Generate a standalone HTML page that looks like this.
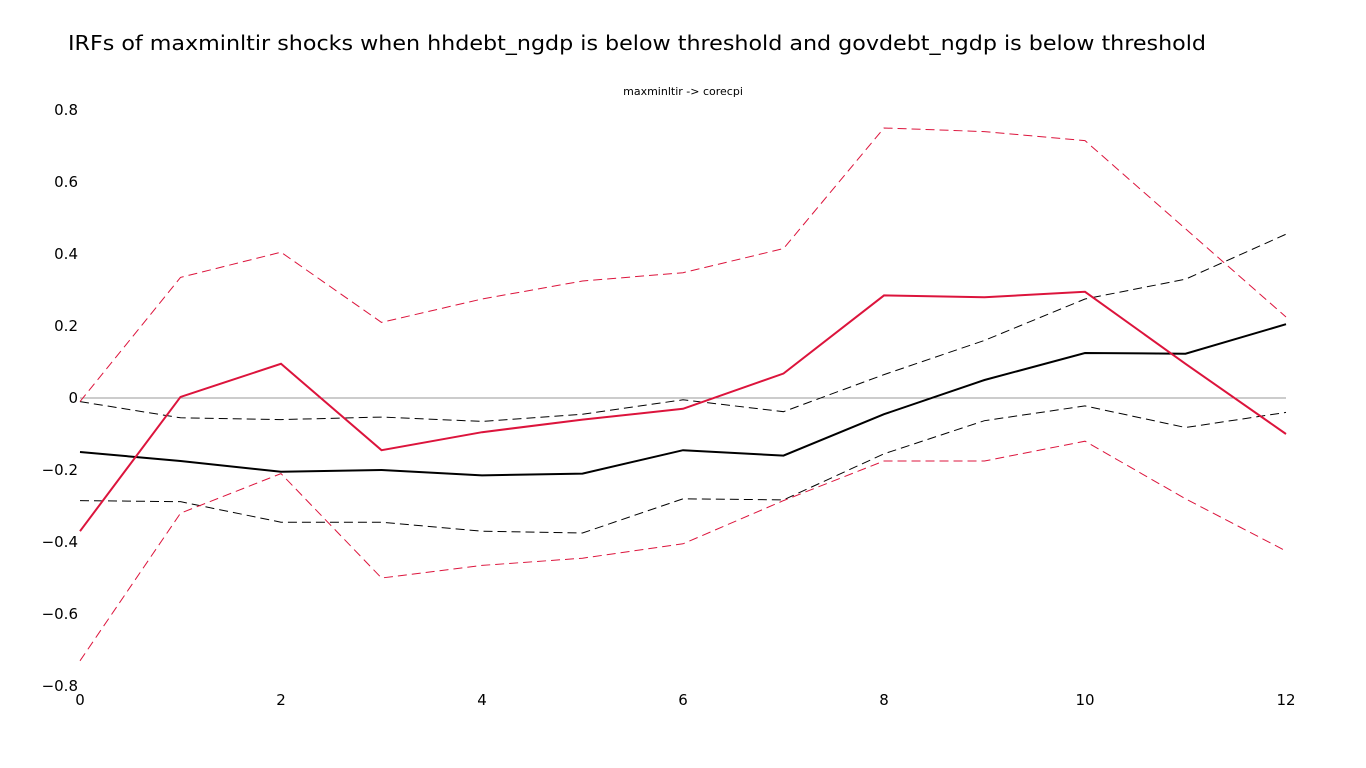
<!DOCTYPE html>
<html><head><meta charset="utf-8">
<style>
html,body{margin:0;padding:0;background:#fff;}
svg{display:block;font-family:"DejaVu Sans","Liberation Sans",sans-serif;}
</style></head>
<body>
<svg id="chart" width="1366" height="768">
<text x="68" y="50" font-size="20" textLength="1138" lengthAdjust="spacingAndGlyphs" fill="#000">IRFs of maxminltir shocks when hhdebt_ngdp is below threshold and govdebt_ngdp is below threshold</text>
<text x="683" y="95" font-size="11" text-anchor="middle" fill="#000">maxminltir -&gt; corecpi</text>
<g id="axes"></g>
<g id="series"></g>
</svg>
<script>
const horizons = [0,1,2,3,4,5,6,7,8,9,10,11,12];
const blackMean = [-0.15,-0.175,-0.205,-0.2,-0.215,-0.21,-0.145,-0.16,-0.045,0.05,0.125,0.123,0.205];
const blackUpper = [-0.01,-0.055,-0.06,-0.053,-0.065,-0.045,-0.005,-0.038,0.065,0.16,0.275,0.33,0.455];
const blackLower = [-0.285,-0.288,-0.345,-0.345,-0.37,-0.375,-0.28,-0.283,-0.155,-0.063,-0.022,-0.082,-0.04];
const redMean = [-0.37,0.003,0.095,-0.145,-0.095,-0.06,-0.03,0.068,0.285,0.28,0.295,0.095,-0.1];
const redUpper = [-0.01,0.335,0.405,0.21,0.275,0.325,0.348,0.415,0.75,0.74,0.715,0.47,0.225];
const redLower = [-0.73,-0.32,-0.21,-0.5,-0.465,-0.445,-0.405,-0.285,-0.175,-0.175,-0.12,-0.28,-0.425];
const xTicks = [0,2,4,6,8,10,12];
const yTicks = [0.8,0.6,0.4,0.2,0,-0.2,-0.4,-0.6,-0.8];

const NS = "http://www.w3.org/2000/svg";
const x = v => 80 + v * (1286 - 80) / 12;
const y = v => 398 - v * 360;
const axes = document.getElementById('axes');
const series = document.getElementById('series');

const zl = document.createElementNS(NS, 'line');
zl.setAttribute('x1', x(0)); zl.setAttribute('x2', x(12));
zl.setAttribute('y1', y(0)); zl.setAttribute('y2', y(0));
zl.setAttribute('stroke', '#999'); zl.setAttribute('stroke-width', '1');


axes.appendChild(zl);

xTicks.forEach(t => {
  const tx = document.createElementNS(NS, 'text');
  tx.setAttribute('x', x(t)); tx.setAttribute('y', 705);
  tx.setAttribute('text-anchor', 'middle'); tx.setAttribute('font-size', '15');
  tx.textContent = t;
  
  
  axes.appendChild(tx);
});
yTicks.forEach(t => {
  const tx = document.createElementNS(NS, 'text');
  tx.setAttribute('x', 78); tx.setAttribute('y', y(t) + 5);
  tx.setAttribute('text-anchor', 'end'); tx.setAttribute('font-size', '15');
  tx.textContent = t === 0 ? '0' : (t < 0 ? '\u2212' + Math.abs(t).toFixed(1) : t.toFixed(1));
  
  
  axes.appendChild(tx);
});

function drawLine(vals, color, width, dash, name) {
  const p = document.createElementNS(NS, 'polyline');
  p.setAttribute('points', vals.map((v, i) => x(horizons[i]) + ',' + y(v)).join(' '));
  p.setAttribute('fill', 'none');
  p.setAttribute('stroke', color);
  p.setAttribute('stroke-width', width);
  if (dash) p.setAttribute('stroke-dasharray', dash);
  
  
  series.appendChild(p);
}
drawLine(blackUpper, '#000', 1, '9,5', 'black-upper-band');
drawLine(blackLower, '#000', 1, '9,5', 'black-lower-band');
drawLine(redUpper, '#dc143c', 1, '9,5', 'red-upper-band');
drawLine(redLower, '#dc143c', 1, '9,5', 'red-lower-band');
drawLine(blackMean, '#000', 2, null, 'black-irf-line');
drawLine(redMean, '#dc143c', 2, null, 'red-irf-line');
</script>
</body></html>
